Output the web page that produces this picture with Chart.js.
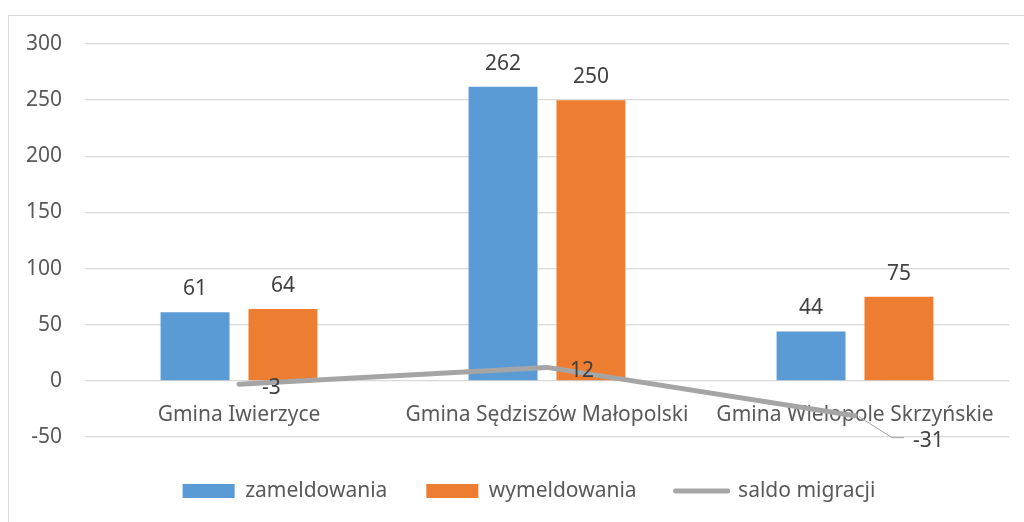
<!DOCTYPE html>
<html>
<head>
<meta charset="utf-8">
<script src="https://cdn.jsdelivr.net/npm/chart.js@4"></script>
<style>
  html, body { margin: 0; padding: 0; background: #ffffff; overflow: hidden; }
  #wrap { position: relative; width: 1024px; height: 522px; overflow: hidden; }
  #frame { position: absolute; left: 8px; top: 15px; width: 1100px; height: 600px; border: 1.5px solid #d9d9d9; box-sizing: border-box; }
  canvas { position: absolute; left: 0; top: 0; }
</style>
</head>
<body>
<div id="wrap">
  <div id="frame"></div>
  <canvas id="c" width="1024" height="522"></canvas>
</div>
<script>
const categories = ['Gmina Iwierzyce', 'Gmina Sędziszów Małopolski', 'Gmina Wielopole Skrzyńskie'];
const zameldowania = [61, 262, 44];
const wymeldowania = [64, 250, 75];
const saldoMigracji = [-3, 12, -31];
const yTicks = [-50, 0, 50, 100, 150, 200, 250, 300];
const seriesNames = ['zameldowania', 'wymeldowania', 'saldo migracji'];

const FONT = '"Noto Sans", "Open Sans", sans-serif';
const FS = 21;
const BLUE = '#5B9BD5', ORANGE = '#ED7D31', GRAY = '#A5A5A5';

const valueLabels = {
  id: 'valueLabels',
  afterDatasetsDraw(chart, args, opts) {
    const ctx = chart.ctx;
    ctx.save();
    ctx.font = FS + 'px ' + FONT;
    ctx.fillStyle = '#404040';
    chart.data.datasets.forEach((ds, i) => {
      const meta = chart.getDatasetMeta(i);
      meta.data.forEach((el, j) => {
        const v = ds.data[j];
        if (ds.type === 'line') {
          const s = (opts.lineShift && opts.lineShift[j]) || { dx: 23, dy: 3 };
          if (s.leader) {
            ctx.save();
            ctx.strokeStyle = GRAY;
            ctx.lineWidth = 1;
            ctx.beginPath();
            ctx.moveTo(el.x + 4, el.y + 1);
            ctx.lineTo(el.x + s.dx - 21, el.y + s.dy - 2);
            ctx.lineTo(el.x + s.dx - 9, el.y + s.dy - 2);
            ctx.stroke();
            ctx.restore();
          }
          ctx.textAlign = 'left';
          ctx.textBaseline = 'middle';
          ctx.fillText(String(v), el.x + s.dx, el.y + s.dy + 1);
        } else {
          ctx.textAlign = 'center';
          ctx.textBaseline = 'middle';
          ctx.fillText(String(v), el.x, el.y - 23);
        }
      });
    });
    ctx.restore();
  }
};

const legendShift = {
  id: 'legendShift',
  afterLayout(chart, args, opts) {
    if (chart.legend) { chart.legend.left += opts.dx; chart.legend.right += opts.dx; }
  }
};

new Chart(document.getElementById('c'), {
  type: 'bar',
  data: {
    labels: categories,
    datasets: [
      { label: seriesNames[0], data: zameldowania, backgroundColor: BLUE, borderWidth: 0,
        categoryPercentage: 0.571, barPercentage: 0.784, order: 1 },
      { label: seriesNames[1], data: wymeldowania, backgroundColor: ORANGE, borderWidth: 0,
        categoryPercentage: 0.571, barPercentage: 0.784, order: 1 },
      { type: 'line', label: seriesNames[2], data: saldoMigracji, borderColor: GRAY, backgroundColor: GRAY,
        borderWidth: 5, borderCapStyle: 'round', borderJoinStyle: 'round', pointRadius: 0, tension: 0, fill: false, order: 0 }
    ]
  },
  options: {
    responsive: false,
    animation: false,
    devicePixelRatio: 1,
    layout: { padding: { left: 15, right: 15, top: 44, bottom: 10.5 } },
    scales: {
      x: {
        position: { y: 0 },
        offset: true,
        grid: { display: false, drawTicks: false },
        border: { display: false },
        ticks: { color: '#595959', font: { family: FONT, size: FS }, padding: 22, maxRotation: 0, autoSkip: false }
      },
      y: {
        min: -50, max: 300,
        afterBuildTicks: (s) => { s.ticks = yTicks.map(v => ({ value: v })); },
        afterFit: (s) => { s.width = 70; },
        grid: { color: '#d9d9d9', lineWidth: 1.3, drawTicks: false },
        border: { display: false },
        ticks: { color: '#595959', font: { family: FONT, size: FS }, padding: 23 }
      }
    },
    plugins: {
      tooltip: { enabled: false },
      valueLabels: { lineShift: { 2: { dx: 58, dy: 24, leader: true } } },
      legendShift: { dx: 17 },
      legend: {
        position: 'bottom',
        title: { display: true, text: ' ', font: { size: 2, lineHeight: 1 }, padding: { top: 1.25, bottom: 1.25 } },
        labels: {
          color: '#595959',
          font: { family: FONT, size: FS },
          usePointStyle: true,
          pointStyleWidth: 52,
          boxHeight: 14,
          padding: 39,
          generateLabels: (chart) => chart.data.datasets.map((ds, i) => ({
            text: ds.label,
            fillStyle: ds.type === 'line' ? GRAY : ds.backgroundColor,
            strokeStyle: ds.type === 'line' ? GRAY : ds.backgroundColor,
            lineWidth: ds.type === 'line' ? 5 : 0,
            lineCap: 'round',
            pointStyle: ds.type === 'line' ? 'line' : 'rect',
            fontColor: '#595959',
            hidden: false,
            datasetIndex: i
          }))
        }
      }
    }
  },
  plugins: [valueLabels, legendShift]
});
</script>
</body>
</html>
